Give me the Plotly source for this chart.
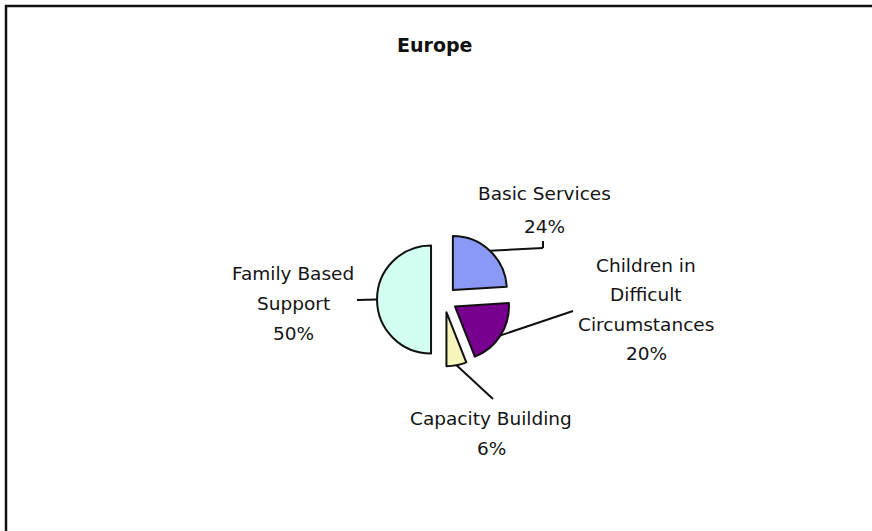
import math
import plotly.graph_objects as go

# Europe: share of spending by programme area (percent)
labels = ["Basic Services", "Children in Difficult Circumstances",
          "Capacity Building", "Family Based Support"]
values = [24, 20, 6, 50]
label_lines = [["Basic Services"],
               ["Children in", "Difficult", "Circumstances"],
               ["Capacity Building"],
               ["Family Based", "Support"]]
colors = ["#8a99f6", "#78008f", "#f5f5bc", "#d2fff2"]

W, H = 872, 531
CX, CY = 444, 299.5      # pie centre in pixels
R = 54                   # slice radius in pixels
PULL = 0.24              # every slice is exploded
BOX = R * (1 + PULL)

FONT = "DejaVu Sans"
TEXT_COLOR = "#141414"


def px(x):
    return x / W


def py(y):
    return 1 - y / H


fig = go.Figure(go.Pie(
    labels=labels,
    values=values,
    sort=False,
    direction="clockwise",
    rotation=0,
    pull=[PULL] * len(values),
    marker=dict(colors=colors, line=dict(color="#111111", width=2)),
    textinfo="none",
    hoverinfo="label+percent",
    showlegend=False,
    domain=dict(x=[px(CX - BOX), px(CX + BOX)],
                y=[py(CY + BOX), py(CY - BOX)]),
))

# label blocks: centre x, first line y, line spacing (pixels)
label_pos = [(544, 193, 33), (646, 265, 29.5), (491, 418, 30), (293, 273, 30)]
# leader line bends / end points (pixels), starting from the slice's outer arc
leader_pts = [[(543, 248), (543, 241)],
              [(573, 311)],
              [(493, 399)],
              [(357, 300)]]

total = sum(values)
shapes = []
annotations = []
cum = 0
for i, v in enumerate(values):
    theta = 2 * math.pi * (cum + v / 2) / total
    cum += v
    sx = CX + BOX * math.sin(theta)
    sy = CY - BOX * math.cos(theta)
    pts = [(sx, sy)] + leader_pts[i]
    for (x0, y0), (x1, y1) in zip(pts[:-1], pts[1:]):
        shapes.append(dict(type="line", xref="paper", yref="paper",
                           x0=px(x0), y0=py(y0), x1=px(x1), y1=py(y1),
                           line=dict(color="#111111", width=2)))
    lines = label_lines[i] + [f"{v}%"]
    lx, ly, step = label_pos[i]
    for k, t in enumerate(lines):
        annotations.append(dict(text=t, xref="paper", yref="paper",
                                x=px(lx), y=py(ly + k * step),
                                xanchor="center", yanchor="middle",
                                showarrow=False,
                                font=dict(family=FONT, size=18.5,
                                          color=TEXT_COLOR)))

annotations.append(dict(text="<b>Europe</b>", xref="paper", yref="paper",
                        x=px(434), y=py(45), xanchor="center",
                        yanchor="middle", showarrow=False,
                        font=dict(family=FONT, size=19, color="#111111")))

# chart frame (only its top and left edges fall inside the page)
shapes.append(dict(type="rect", xref="paper", yref="paper",
                   x0=px(6), y0=py(560), x1=px(900), y1=py(6),
                   line=dict(color="#111111", width=2.5)))

fig.update_layout(
    width=W, height=H,
    margin=dict(l=0, r=0, t=0, b=0),
    paper_bgcolor="white",
    plot_bgcolor="white",
    shapes=shapes,
    annotations=annotations,
)

fig.write_html("out.html")
